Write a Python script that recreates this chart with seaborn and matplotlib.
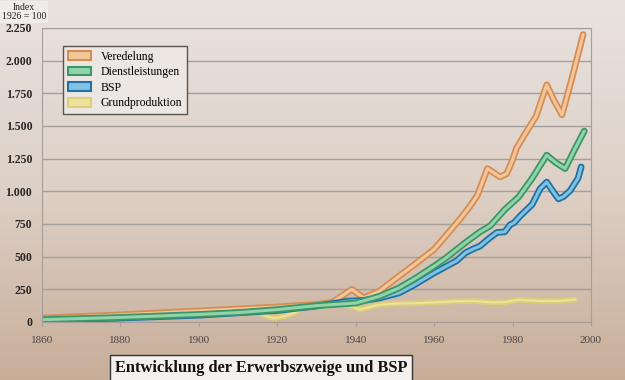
import numpy as np
import seaborn as sns
import matplotlib.pyplot as plt
import matplotlib.patheffects as pe
from matplotlib.patches import Patch
from matplotlib.colors import LinearSegmentedColormap
from matplotlib.ticker import FuncFormatter

# Werte (Index 1926 = 100)
ver_years = [1860, 1880, 1900, 1920, 1930, 1934, 1939, 1942, 1946, 1951, 1955, 1960,
             1963, 1966.6, 1969, 1971, 1973.6, 1976.8, 1978.5, 1979.8, 1981, 1983, 1986,
             1988.7, 1990.5, 1992.6, 1995, 1998]
ver_vals = [30, 55, 85, 115, 135, 150, 250, 185, 235, 350, 440, 556,
            660, 788, 880, 968, 1174, 1110, 1135, 1225, 1330, 1430, 1575,
            1815, 1700, 1585, 1850, 2200]

die_years = [1860, 1880, 1900, 1910, 1920, 1930, 1940, 1946, 1951, 1955, 1960, 1963,
             1968, 1971.7, 1974.3, 1978, 1981.5, 1985, 1988.7, 1991, 1993.4, 1996, 1998.3]
die_vals = [18, 35, 58, 72, 95, 125, 145, 196, 260, 330, 427, 490,
            608, 690, 736, 860, 955, 1100, 1277, 1220, 1174, 1330, 1462]

bsp_years = [1860, 1880, 1900, 1920, 1930, 1938, 1942, 1946, 1951, 1954.7, 1960, 1965.8,
             1968, 1970, 1971.7, 1974, 1976, 1978, 1979.4, 1980.4, 1982, 1985, 1987,
             1988.7, 1990.4, 1991.7, 1993, 1994.7, 1996.7, 1997.5]
bsp_vals = [12, 30, 52, 88, 122, 160, 165, 183, 222, 280, 376, 470,
            530, 560, 581, 640, 685, 690, 745, 760, 813, 900, 1019,
            1071, 996, 942, 960, 1006, 1100, 1187]

gru_years = [1860, 1880, 1900, 1912, 1915, 1919, 1922, 1925, 1928, 1932, 1936, 1939,
             1941, 1943, 1946, 1950, 1956, 1960, 1965, 1970, 1975, 1978, 1981.5,
             1984, 1988, 1992, 1996]
gru_vals = [20, 40, 62, 85, 70, 28, 45, 80, 130, 120, 135, 120,
            95, 110, 133, 140, 145, 150, 158, 160, 150, 152, 171,
            165, 160, 162, 172]

labels = ["Veredelung", "Dienstleistungen", "BSP", "Grundproduktion"]
outer = ["#d68d52", "#3a9868", "#1f72a4", "#dccf78"]
inner = ["#f2c69c", "#92d3a8", "#80c2e2", "#eee39c"]

fig = plt.figure(figsize=(6.25, 3.8), dpi=100)
plt.rcParams['font.family'] = ['Liberation Serif', 'DejaVu Serif']

# Hintergrund mit Verlauf
bg = fig.add_axes([0, 0, 1, 1], zorder=0)
grad = np.linspace(0, 1, 256).reshape(-1, 1)
cmap = LinearSegmentedColormap.from_list("bg", ["#e9e3df", "#ddd0c6", "#c8ae99"])
bg.imshow(grad, aspect='auto', extent=[0, 1, 0, 1], cmap=cmap, origin='upper')
bg.axis('off')

ax = fig.add_axes([42 / 625, 58 / 380, 549 / 625, 294 / 380], zorder=1)
ax.patch.set_alpha(0)

series = [(gru_years, gru_vals, 3), (ver_years, ver_vals, 0),
          (bsp_years, bsp_vals, 2), (die_years, die_vals, 1)]
for xs, ys, i in series:
    w = 4.0 if i == 3 else 4.8
    sns.lineplot(x=xs, y=ys, ax=ax, color=inner[i], linewidth=w - 2.6,
                 solid_capstyle='round', solid_joinstyle='round',
                 path_effects=[pe.Stroke(linewidth=w, foreground=outer[i],
                                         capstyle='round', joinstyle='round'),
                               pe.Normal()])

ax.set_xlim(1860, 2000)
ax.set_ylim(0, 2250)
ax.set_xticks(range(1860, 2001, 20))
ax.set_yticks(range(0, 2251, 250))
ax.yaxis.set_major_formatter(FuncFormatter(lambda v, p: f"{v:,.0f}".replace(",", ".")))
ax.grid(axis='y', color='#a69e9a', linewidth=1)
ax.set_axisbelow(True)
for s in ax.spines.values():
    s.set_color('#a69e9a')
ax.tick_params(axis='y', length=0, pad=7, labelsize=8.5, labelcolor='#2a2524')
ax.tick_params(axis='x', length=3, color='#a69e9a', pad=7, labelsize=8, labelcolor='#4a4442')
for t in ax.get_yticklabels():
    t.set_fontweight('bold')
ax.set_xlabel("")
ax.set_ylabel("")

handles = [Patch(facecolor=inner[i], edgecolor=outer[i], linewidth=1.5) for i in range(4)]
ax.legend(handles, labels, loc='upper left', bbox_to_anchor=(63 / 625, 1 - 46 / 380),
          bbox_transform=fig.transFigure, borderaxespad=0, fontsize=8.5,
          handlelength=2.0, handleheight=0.75, labelspacing=0.3, fancybox=False,
          facecolor='#ece7e3', edgecolor='#5a5452', framealpha=1)

fig.text(24 / 625, 1 - 12 / 380, "Index\n1926 = 100", ha='center', va='center',
         fontsize=7, linespacing=1.05, color='#222',
         bbox=dict(facecolor='#f0ece9', edgecolor='none', pad=1.5))

fig.text(261 / 625, 1 - 368 / 380, "Entwicklung der Erwerbszweige und BSP",
         ha='center', va='center', fontsize=11.8, fontweight='bold', color='#111',
         bbox=dict(facecolor='#f3f0ee', edgecolor='#333', linewidth=1, pad=3.5))

fig.savefig("out.png", dpi=100)
